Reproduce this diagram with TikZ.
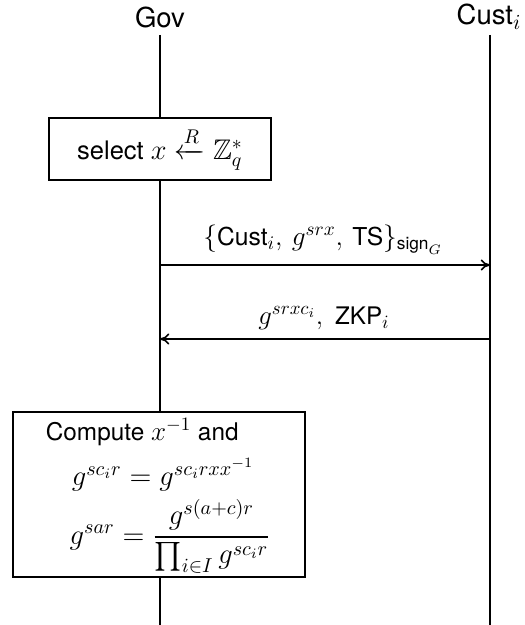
\RequirePackage{fix-cm}
\documentclass[tikz,border=0pt]{standalone}
\usepackage{amsmath,amssymb}
\usepackage[no-math]{fontspec}
\setmainfont[Scale=0.9]{TeX Gyre Heros}
\usetikzlibrary{arrows.meta}
\begin{document}
\begin{tikzpicture}[x=0.54pt,y=-0.54pt,line width=0.9pt,
  font=\fontsize{14.5}{17}\selectfont,
  lifeline/.style={draw},
  actbox/.style={draw,fill=white,line width=0.9pt},
  msg/.style={-{To[length=5pt,width=6pt]}},
  lbl/.style={inner sep=0pt},
  hdr/.style={inner sep=0pt,font=\fontsize{16.5}{19}\selectfont}]
\useasboundingbox (0,0) rectangle (524,625);
% headers
\node[hdr] (gov) at (160,17) {Gov};
\node[hdr] (cust) at (489,17) {Cust$_i$};
% lifelines
\coordinate (govtop) at (160,35);
\coordinate (govbot) at (160,625);
\coordinate (custtop) at (490,35);
\coordinate (custbot) at (490,625);
\draw[lifeline] (govtop) -- (govbot);
\draw[lifeline] (custtop) -- (custbot);
% select box
\node[actbox,minimum width=222*0.54pt,minimum height=62*0.54pt,font=\fontsize{15.3}{18}\selectfont] (sel) at (160,149)
  {select $x \xleftarrow{R} \mathbb{Z}_q^*$};
% message 1
\coordinate (m1a) at (160,265);
\coordinate (m1b) at (490,265);
\draw[msg] (m1a) -- (m1b);
\node[lbl,font=\fontsize{14.8}{17}\selectfont] (m1l) at (323,240) {$\{\text{Cust}_i,\, g^{srx},\, \text{TS}\}_{\text{sign}_G}$};
% message 2
\coordinate (m2a) at (490,339);
\coordinate (m2b) at (160,339);
\draw[msg] (m2a) -- (m2b);
\node[lbl] (m2l) at (324,318) {$g^{srxc_i},\; \text{ZKP}_i$};
% compute box
\node[actbox,minimum width=292*0.54pt,minimum height=165*0.54pt] (comp) at (159,494.5) {};
\node[lbl,anchor=west,font=\fontsize{14.6}{17}\selectfont] (c1) at (45,432) {Compute $x^{-1}$ and};
\node[lbl,font=\fontsize{15.5}{18}\selectfont] (c2) at (163,475) {$g^{sc_ir} = g^{sc_irxx^{-1}}$};
\node[lbl,font=\fontsize{15.5}{18}\selectfont] (c3) at (170,536) {$g^{sar} = \dfrac{g^{s(a+c)r}}{\prod_{i\in I} g^{sc_ir}}$};
\end{tikzpicture}
\end{document}
